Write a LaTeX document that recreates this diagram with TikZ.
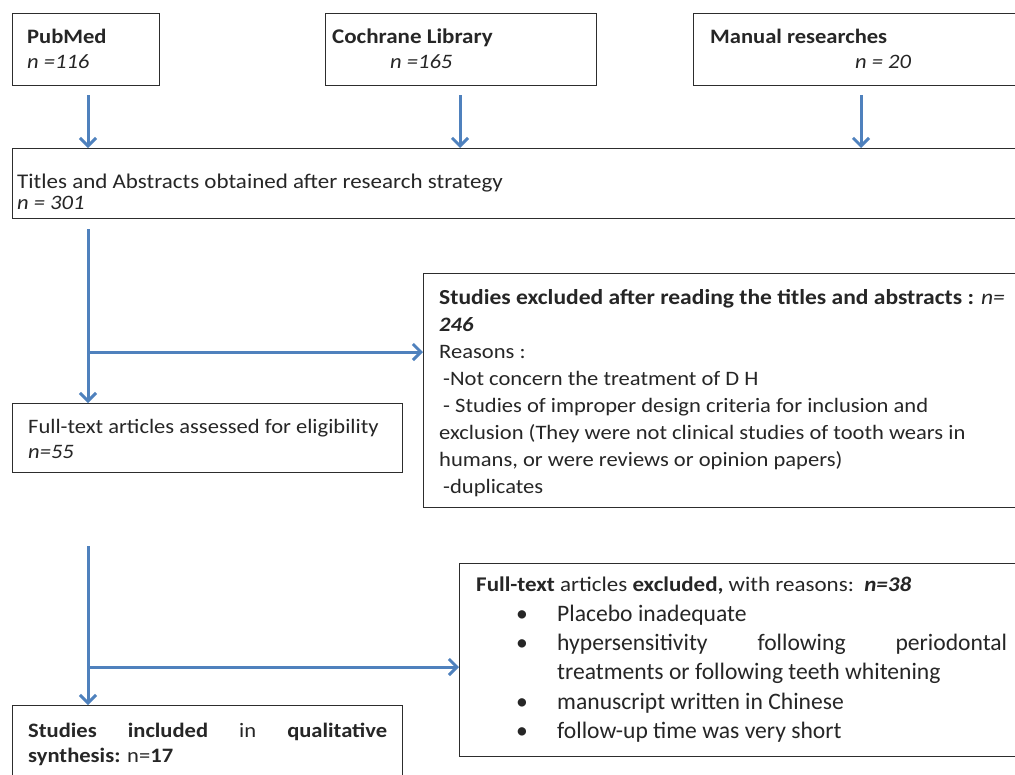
\documentclass[tikz,border=0pt]{standalone}
\usepackage{fontspec}
\setmainfont{Carlito}[FakeStretch=1.1]
\newfontfamily\bulfont{Carlito}
\usetikzlibrary{arrows.meta}
\definecolor{arrblue}{RGB}{79,129,189}
\definecolor{boxline}{RGB}{45,45,45}
\begin{document}
\begin{tikzpicture}[x=1pt,y=-1pt,
  box/.style={draw=boxline,line width=1.3pt,fill=white,anchor=north west,inner sep=0pt},
  txt/.style={anchor=base west,inner sep=0pt,text=black!85,font=\fontsize{20.5}{26}\selectfont},
  btxt/.style={anchor=base west,inner sep=0pt,text=black!85,font=\bulfont\fontsize{23.6}{29}\selectfont},
  flow/.style={draw=arrblue,line width=3pt,-{Straight Barb[length=8pt,width=16pt]}}]
\useasboundingbox (0,0) rectangle (1015,774);
\clip (0,0) rectangle (1015,774);
% boxes
\node[box,minimum width=147pt,minimum height=72pt] (pubmed) at (12,13) {};
\node[box,minimum width=271pt,minimum height=72pt] (cochrane) at (325,13) {};
\node[box,minimum width=340pt,minimum height=72pt] (manual) at (693,13) {};
\node[box,minimum width=1020pt,minimum height=70pt] (titles) at (12,148) {};
\node[box,minimum width=390pt,minimum height=69pt] (fulltext) at (12,403) {};
\node[box,minimum width=610pt,minimum height=234pt] (excl1) at (423,273) {};
\node[box,minimum width=580pt,minimum height=193pt] (excl2) at (459,563) {};
\node[box,minimum width=390pt,minimum height=90pt] (included) at (12,705) {};
% texts
\node[txt] (pm1) at (27,43) {\textbf{PubMed}};
\node[txt] (pm2) at (27,68) {\textit{n =116}};
\node[txt] (co1) at (332,43) {\fontsize{20.9}{26}\selectfont\textbf{Cochrane Library}};
\node[txt] (co2) at (390,68) {\textit{n =165}};
\node[txt] (ma1) at (710,43) {\textbf{Manual researches}};
\node[txt] (ma2) at (855,68) {\textit{n = 20}};
\node[txt] (ti1) at (17,188) {\fontsize{20.9}{22}\selectfont Titles and Abstracts obtained after research strategy};
\node[txt] (ti2) at (17,209) {\textit{n = 301}};
\node[txt] (ft1) at (28,433) {Full-text articles assessed for eligibility};
\node[txt] (ft2) at (28,458) {\textit{n=55}};
\node[txt] (e1a) at (439,304) {\fontsize{21.4}{26}\selectfont\textbf{Studies excluded after reading the titles and abstracts :} \textit{n=}};
\node[txt] (e1b) at (439,331) {\textbf{\textit{246}}};
\node[txt] (e1c) at (439,358) {Reasons :};
\node[txt] (e1d) at (443,385) {-Not concern the treatment of D H};
\node[txt] (e1e) at (443,412) {- Studies of improper design criteria for inclusion and};
\node[txt] (e1f) at (439,439) {exclusion (They were not clinical studies of tooth wears in};
\node[txt] (e1g) at (439,466) {humans, or were reviews or opinion papers)};
\node[txt] (e1h) at (443,493) {-duplicates};
\node[txt] (e2a) at (476,591) {\fontsize{20.9}{26}\selectfont\textbf{Full-text} articles \textbf{excluded,} with reasons:\ \ \textbf{\textit{n=38}}};
\foreach \yy/\nm in {621/ba,650/bb,709/bc,738/bd}{
  \node[btxt] (\nm) at (516,\yy) {•};
}
\node[btxt] (e2b) at (557,621) {Placebo inadequate};
\node[btxt,text width=450pt] (e2c) at (557,650) {hypersensitivity\hfill following\hfill periodontal};
\node[btxt] (e2d) at (557,679) {treatments or following teeth whitening};
\node[btxt] (e2e) at (557,709) {manuscript written in Chinese};
\node[btxt] (e2f) at (557,738) {follow-up time was very short};
\node[txt,text width=359pt] (in1) at (28,737) {\textbf{Studies}\hfill\textbf{included}\hfill in\hfill\textbf{qualitative}};
\node[txt] (in2) at (28,762) {\textbf{synthesis:} n=\textbf{17}};
% connectors
\coordinate (c1) at (88,229);
\coordinate (c2) at (88,352);
\coordinate (c3) at (88,546);
\coordinate (c4) at (88,667);
\draw[flow] (pubmed.south -| c1) ++(0,9) -- (titles.north -| c1);
\draw[flow] ([yshift=-9pt]cochrane.south -| 460,0) -- (titles.north -| 460,0);
\draw[flow] ([yshift=-9pt]manual.south -| 861,0) -- (titles.north -| 861,0);
\draw[flow] (c1) -- (fulltext.north -| c1);
\draw[flow] (c2) -- (excl1.west |- c2);
\draw[flow] (c3) -- (included.north -| c3);
\draw[flow] (c4) -- (excl2.west |- c4);
\end{tikzpicture}
\end{document}
